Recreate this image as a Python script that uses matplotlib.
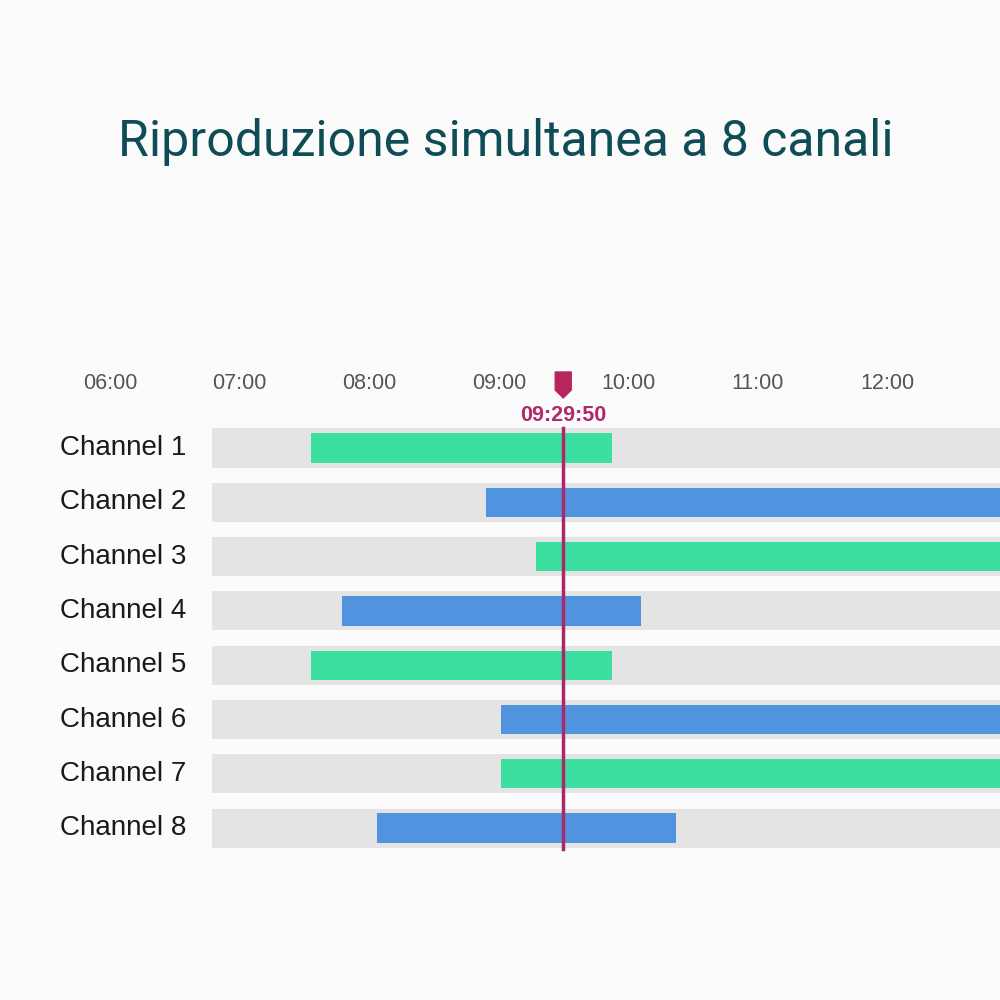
import matplotlib.pyplot as plt
from matplotlib.patches import Polygon

channels = ["Channel 1", "Channel 2", "Channel 3", "Channel 4",
            "Channel 5", "Channel 6", "Channel 7", "Channel 8"]
# start / end in hours (end beyond view = runs past the right edge)
starts = [7.55, 8.90, 9.29, 7.79, 7.55, 9.02, 9.02, 8.06]
ends = [9.87, 13.5, 13.5, 10.10, 9.87, 13.5, 13.5, 10.37]
colors = ["#3ddfa0", "#5094e0", "#3ddfa0", "#5094e0",
          "#3ddfa0", "#5094e0", "#3ddfa0", "#5094e0"]
tick_hours = [6, 7, 8, 9, 10, 11, 12]
tick_labels = ["06:00", "07:00", "08:00", "09:00", "10:00", "11:00", "12:00"]
cursor = 9 + 29 / 60 + 50 / 3600
cursor_label = "09:29:50"

px_per_h = 129.6
x0 = 6 - 110 / px_per_h
x1 = x0 + 1000 / px_per_h
track_start = 6 + (212 - 110) / px_per_h
row_px = 54.3

fig = plt.figure(figsize=(10, 10), dpi=100, facecolor="#fbfbfb")
ax = fig.add_axes([0, 0, 1, 1])
ax.set_facecolor("#fbfbfb")
ax.set_xlim(x0, x1)
ax.set_ylim((1000 - 448) / row_px, -448 / row_px)
ax.axis("off")

font = ["Liberation Sans", "DejaVu Sans"]
for i, ch in enumerate(channels):
    ax.barh(i, x1 - track_start + 1, left=track_start, height=0.72,
            color="#e4e4e4", zorder=1)
    ax.barh(i, ends[i] - starts[i], left=starts[i], height=0.54,
            color=colors[i], zorder=2)
    ax.text(6 + (186 - 110) / px_per_h, i, ch, ha="right", va="center",
            fontsize=20, color="#1a1a1a", family=font)

tick_y = (383 - 448) / row_px
for h, lab in zip(tick_hours, tick_labels):
    ax.text(h, tick_y, lab, ha="center", va="center", fontsize=15.5,
            color="#555555", family=font)

cursor_color = "#a8286a"
ax.plot([cursor, cursor], [(428 - 448) / row_px, (849 - 448) / row_px],
        color=cursor_color, lw=2.5, zorder=3)
w = 8 / px_per_h
top = (372 - 448) / row_px
mid = (390 - 448) / row_px
bot = (398 - 448) / row_px
ax.add_patch(Polygon([[cursor - w, top], [cursor + w, top], [cursor + w, mid],
                      [cursor, bot], [cursor - w, mid]],
                     closed=True, color="#b8245e", zorder=4))
ax.text(cursor, (415 - 448) / row_px, cursor_label, ha="center", va="center",
        fontsize=15.5, color="#b02a6a", fontweight="bold", family=font)

fig.text(0.506, 1 - 142 / 1000, "Riproduzione simultanea a 8 canali",
         ha="center", va="center", fontsize=36, color="#0e4d55", family="Roboto")

fig.savefig("out.png", dpi=100, facecolor=fig.get_facecolor())
